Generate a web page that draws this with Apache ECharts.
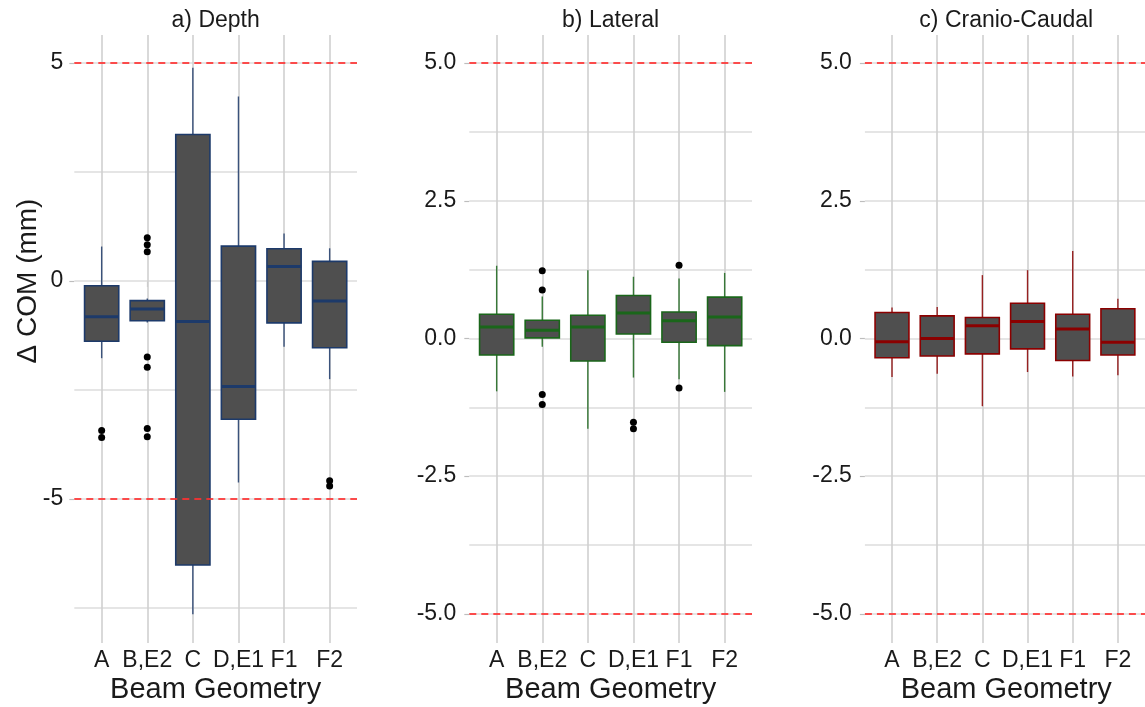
<!DOCTYPE html>
<html>
<head>
<meta charset="utf-8">
<script src="https://cdn.jsdelivr.net/npm/echarts@6/dist/echarts.min.js"></script>
<style>
  html, body { margin: 0; padding: 0; background: #fff; }
  #chart { width: 1145px; height: 707px; }
</style>
</head>
<body>
<div id="chart"></div>
<script>
var categories = ['A', 'B,E2', 'C', 'D,E1', 'F1', 'F2'];
var panelTitles = ['a) Depth', 'b) Lateral', 'c) Cranio-Caudal'];
var xTitle = 'Beam Geometry';
var yTitle = '\u0394 COM (mm)';

// box stats per geometry: [min, Q1, median, Q3, max]
var depthBoxes = [
  [-1.77, -1.38, -0.82, -0.11, 0.79],
  [-0.95, -0.91, -0.64, -0.45, -0.40],
  [-7.64, -6.51, -0.93, 3.36, 4.89],
  [-4.62, -3.17, -2.42, 0.80, 4.23],
  [-1.51, -0.96, 0.33, 0.74, 1.09],
  [-2.25, -1.53, -0.46, 0.45, 0.75]
];
var lateralBoxes = [
  [-0.96, -0.30, 0.21, 0.44, 1.32],
  [-0.15, 0.01, 0.15, 0.33, 0.76],
  [-1.64, -0.41, 0.21, 0.42, 1.24],
  [-0.71, 0.08, 0.46, 0.78, 1.12],
  [-0.74, -0.07, 0.32, 0.48, 1.09],
  [-0.97, -0.13, 0.39, 0.75, 1.19]
];
var cranioBoxes = [
  [-0.70, -0.35, -0.06, 0.47, 0.56],
  [-0.64, -0.32, 0.00, 0.41, 0.57],
  [-1.23, -0.28, 0.23, 0.38, 1.15],
  [-0.61, -0.19, 0.31, 0.64, 1.24],
  [-0.69, -0.40, 0.17, 0.44, 1.59],
  [-0.67, -0.30, -0.07, 0.54, 0.72]
];

var depthOutliers = [
  ['A', -3.43], ['A', -3.59],
  ['B,E2', 0.99], ['B,E2', 0.83], ['B,E2', 0.67],
  ['B,E2', -1.74], ['B,E2', -1.98], ['B,E2', -3.38], ['B,E2', -3.57],
  ['F2', -4.58], ['F2', -4.70]
];
var lateralOutliers = [
  ['B,E2', 1.23], ['B,E2', 0.88], ['B,E2', -1.02], ['B,E2', -1.20],
  ['D,E1', -1.52], ['D,E1', -1.64],
  ['F1', 1.33], ['F1', -0.90]
];
var cranioOutliers = [];

var depthTicks = [-5, 0, 5];
var depthGridLines = [-7.5, -5, -2.5, 0, 2.5, 5];
var smallTicks = [-5, -2.5, 0, 2.5, 5];
var smallGridLines = [-5, -3.75, -2.5, -1.25, 0, 1.25, 2.5, 3.75, 5];
var limitLines = [-5, 5];

var panelColors = ['#1d3a6a', '#1a661a', '#8b0000'];
var fontFamily = 'Liberation Sans, Arial, sans-serif';

var panels = [
  { boxes: depthBoxes, outliers: depthOutliers, ticks: depthTicks, gridLines: depthGridLines, min: -8.3, max: 5.64, digits: 0, labelGap: 11 },
  { boxes: lateralBoxes, outliers: lateralOutliers, ticks: smallTicks, gridLines: smallGridLines, min: -5.53, max: 5.51, digits: 1, labelGap: 13 },
  { boxes: cranioBoxes, outliers: cranioOutliers, ticks: smallTicks, gridLines: smallGridLines, min: -5.53, max: 5.51, digits: 1, labelGap: 13 }
];
var gridLefts = [74.3, 469.3, 864.9];
var gridWidth = 282.7;
var gridTop = 35;
var gridHeight = 608;
var catPos = categories.map(function (c, i) { return i + 1; });

function renderBox(color) {
  return function (params, api) {
    var x = api.value(0);
    var half = api.size([0.75, 0])[0] / 2;
    var pMin = api.coord([x, api.value(1)]);
    var pQ1 = api.coord([x, api.value(2)]);
    var pMed = api.coord([x, api.value(3)]);
    var pQ3 = api.coord([x, api.value(4)]);
    var pMax = api.coord([x, api.value(5)]);
    var whisker = { stroke: color, lineWidth: 1.4, opacity: 0.85 };
    return {
      type: 'group',
      children: [
        { type: 'line', shape: { x1: pMax[0], y1: pMax[1], x2: pQ3[0], y2: pQ3[1] }, style: whisker },
        { type: 'line', shape: { x1: pQ1[0], y1: pQ1[1], x2: pMin[0], y2: pMin[1] }, style: whisker },
        { type: 'rect', shape: { x: pQ3[0] - half, y: pQ3[1], width: half * 2, height: pQ1[1] - pQ3[1] },
          style: { fill: '#4f4f4f', stroke: color, lineWidth: 1.6 } },
        { type: 'line', shape: { x1: pMed[0] - half, y1: pMed[1], x2: pMed[0] + half, y2: pMed[1] },
          style: { stroke: color, lineWidth: 3 } }
      ]
    };
  };
}

var grids = [], xAxes = [], yAxes = [], series = [], graphics = [];

panels.forEach(function (p, k) {
  grids.push({ left: gridLefts[k], top: gridTop, width: gridWidth, height: gridHeight });
  xAxes.push({
    type: 'value', gridIndex: k, min: 0.4, max: 6.6,
    splitLine: { show: false },
    axisLine: { show: false },
    axisTick: { show: true, customValues: catPos, length: 6, lineStyle: { color: '#bdbdbd', width: 1.2 } },
    axisLabel: {
      customValues: catPos, margin: 6, color: '#1a1a1a', fontSize: 23, fontFamily: fontFamily,
      formatter: function (v) { return categories[Math.round(v) - 1]; }
    }
  });
  yAxes.push({
    type: 'value', gridIndex: k, min: p.min, max: p.max,
    splitLine: { show: false },
    axisLine: { show: false },
    axisTick: { show: true, customValues: p.ticks, length: 5, lineStyle: { color: '#bdbdbd', width: 1.2 } },
    axisLabel: {
      customValues: p.ticks, margin: p.labelGap, color: '#1a1a1a', fontSize: 23, fontFamily: fontFamily,
      formatter: function (v) { return v.toFixed(p.digits); }
    }
  });

  var gridMarks = p.gridLines.map(function (v) { return { yAxis: v, lineStyle: { color: '#dcdcdc', width: 1.5 } }; })
    .concat(catPos.map(function (c) { return { xAxis: c, lineStyle: { color: '#d0d0d0', width: 1.6 } }; }));

  series.push({
    type: 'scatter', xAxisIndex: k, yAxisIndex: k, z: 3,
    symbolSize: 7, itemStyle: { color: '#000', opacity: 1 },
    data: p.outliers.map(function (o) { return [categories.indexOf(o[0]) + 1, o[1]]; }),
    silent: true,
    markLine: {
      z: 1, silent: true, symbol: 'none', animation: false,
      label: { show: false },
      lineStyle: { type: 'solid', color: '#d9d9d9', width: 1.4 },
      data: gridMarks
    }
  });
  series.push({
    type: 'custom', xAxisIndex: k, yAxisIndex: k, z: 2,
    renderItem: renderBox(panelColors[k]),
    encode: { x: 0, y: [1, 2, 3, 4, 5] },
    data: p.boxes.map(function (b, i) { return [i + 1].concat(b); }),
    silent: true,
    markLine: {
      z: 5, silent: true, symbol: 'none', animation: false,
      label: { show: false },
      lineStyle: { type: [7, 5], color: '#ff3030', width: 2, opacity: 0.85 },
      data: limitLines.map(function (v) { return { yAxis: v }; })
    }
  });

  var cx = gridLefts[k] + gridWidth / 2;
  graphics.push({
    type: 'text', x: cx, y: 21,
    style: { text: panelTitles[k], fill: '#1a1a1a', font: '23px ' + fontFamily, textAlign: 'center', textVerticalAlign: 'middle' }
  });
  graphics.push({
    type: 'text', x: cx, y: 690,
    style: { text: xTitle, fill: '#1a1a1a', font: '29px ' + fontFamily, textAlign: 'center', textVerticalAlign: 'middle' }
  });
});

graphics.push({
  type: 'text', x: 28, y: 281, rotation: Math.PI / 2,
  style: { text: yTitle, fill: '#1a1a1a', font: '28px ' + fontFamily, textAlign: 'center', textVerticalAlign: 'middle' }
});

var chart = echarts.init(document.getElementById('chart'), null, { renderer: 'canvas' });
chart.setOption({
  animation: false,
  backgroundColor: '#fff',
  grid: grids,
  xAxis: xAxes,
  yAxis: yAxes,
  series: series,
  graphic: graphics
});
</script>
</body>
</html>
